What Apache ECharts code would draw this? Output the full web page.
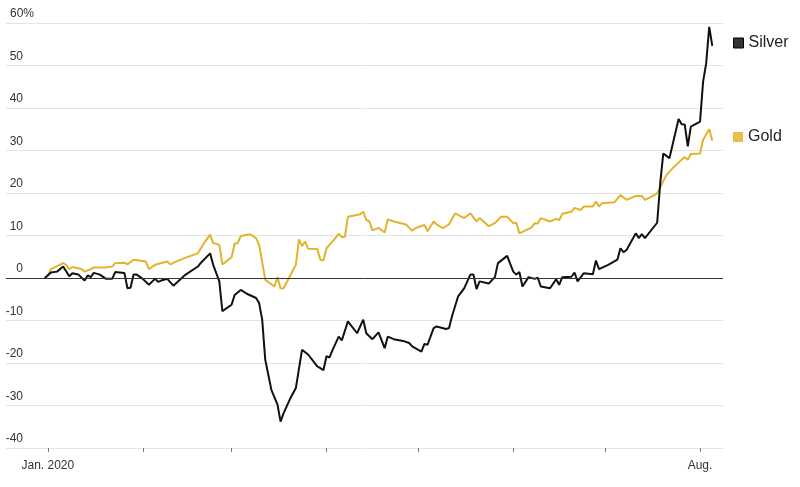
<!DOCTYPE html>
<html>
<head>
<meta charset="utf-8">
<script src="https://cdn.jsdelivr.net/npm/echarts@6/dist/echarts.min.js"></script>
<style>html,body{margin:0;padding:0;background:#fff}#c{width:800px;height:487px}</style>
</head>
<body>
<div id="c"></div>
<script>
// Silver: % change since start of 2020
const silverDates = ['2019-12-31','2020-01-02','2020-01-04','2020-01-06','2020-01-08','2020-01-09','2020-01-11','2020-01-13','2020-01-14','2020-01-15','2020-01-16','2020-01-18','2020-01-20','2020-01-22','2020-01-23','2020-01-26','2020-01-27','2020-01-28','2020-01-29','2020-01-30','2020-02-01','2020-02-03','2020-02-05','2020-02-06','2020-02-07','2020-02-09','2020-02-11','2020-02-15','2020-02-19','2020-02-20','2020-02-23','2020-02-24','2020-02-26','2020-02-27','2020-03-01','2020-03-02','2020-03-04','2020-03-06','2020-03-09','2020-03-10','2020-03-11','2020-03-12','2020-03-14','2020-03-16','2020-03-17','2020-03-18','2020-03-20','2020-03-22','2020-03-24','2020-03-26','2020-03-29','2020-03-30','2020-03-31','2020-04-01','2020-04-02','2020-04-03','2020-04-05','2020-04-06','2020-04-08','2020-04-11','2020-04-13','2020-04-14','2020-04-16','2020-04-18','2020-04-20','2020-04-21','2020-04-23','2020-04-26','2020-04-28','2020-04-29','2020-05-02','2020-05-03','2020-05-04','2020-05-06','2020-05-07','2020-05-10','2020-05-11','2020-05-12','2020-05-14','2020-05-16','2020-05-18','2020-05-19','2020-05-20','2020-05-21','2020-05-24','2020-05-26','2020-05-27','2020-05-30','2020-06-01','2020-06-02','2020-06-03','2020-06-04','2020-06-06','2020-06-08','2020-06-09','2020-06-10','2020-06-13','2020-06-15','2020-06-16','2020-06-17','2020-06-20','2020-06-21','2020-06-22','2020-06-24','2020-06-27','2020-06-28','2020-06-29','2020-07-02','2020-07-05','2020-07-06','2020-07-07','2020-07-08','2020-07-11','2020-07-12','2020-07-13','2020-07-14','2020-07-18','2020-07-19','2020-07-20','2020-07-22','2020-07-25','2020-07-26','2020-07-27','2020-07-28','2020-07-29','2020-08-01','2020-08-02','2020-08-03','2020-08-04','2020-08-05'];
const silverValues = [0,1.3,1.5,2.7,0.4,1.1,0.8,-0.6,0.6,0.2,1.2,0.8,-0.2,-0.2,1.4,1.2,-2.4,-2.3,0.8,0.8,-0.2,-1.6,-0.2,-0.9,-0.6,-0.2,-1.8,0.8,2.7,3.6,5.8,3.1,-0.8,-7.8,-6.3,-4,-2.8,-3.7,-4.7,-5.9,-9.8,-19.2,-26.3,-29.8,-33.8,-31.8,-28.6,-25.9,-16.9,-18,-20.8,-21.2,-21.7,-18.4,-18.7,-16.9,-13.8,-14.7,-10.2,-13,-9.8,-13,-14.4,-12.8,-16.5,-13.8,-14.4,-14.8,-15.3,-16.1,-17.3,-15.5,-15.7,-11.8,-11.4,-12,-11.8,-9,-4.3,-2.4,0.8,0.8,-2.6,-0.8,-1.3,0.2,3.5,5.2,1.5,0.8,1.4,-2,0.2,-0.2,0.1,-2,-2.4,-0.3,-1.6,0.2,0.3,1.3,-0.8,1.1,0.9,4.1,2.1,3.1,4.3,7,6.1,6.6,10.5,9.4,10.3,9.4,13,22.3,29.3,28.2,37.4,36.2,36.1,31,35.6,36.8,46.2,50.5,59.1,54.6];

// Gold: % change since start of 2020
const goldDates = ['2019-12-31','2020-01-01','2020-01-02','2020-01-06','2020-01-07','2020-01-08','2020-01-09','2020-01-12','2020-01-13','2020-01-15','2020-01-16','2020-01-20','2020-01-22','2020-01-23','2020-01-26','2020-01-27','2020-01-29','2020-02-02','2020-02-03','2020-02-05','2020-02-09','2020-02-10','2020-02-12','2020-02-15','2020-02-19','2020-02-21','2020-02-23','2020-02-24','2020-02-26','2020-02-27','2020-03-01','2020-03-02','2020-03-03','2020-03-04','2020-03-07','2020-03-09','2020-03-10','2020-03-12','2020-03-15','2020-03-16','2020-03-17','2020-03-18','2020-03-22','2020-03-23','2020-03-24','2020-03-25','2020-03-26','2020-03-29','2020-03-30','2020-03-31','2020-04-01','2020-04-03','2020-04-05','2020-04-06','2020-04-07','2020-04-08','2020-04-10','2020-04-12','2020-04-13','2020-04-14','2020-04-15','2020-04-16','2020-04-18','2020-04-20','2020-04-21','2020-04-23','2020-04-27','2020-04-29','2020-04-30','2020-05-03','2020-05-04','2020-05-06','2020-05-07','2020-05-09','2020-05-11','2020-05-13','2020-05-16','2020-05-18','2020-05-20','2020-05-21','2020-05-24','2020-05-26','2020-05-28','2020-05-30','2020-06-01','2020-06-02','2020-06-03','2020-06-07','2020-06-08','2020-06-09','2020-06-10','2020-06-13','2020-06-15','2020-06-16','2020-06-17','2020-06-20','2020-06-21','2020-06-23','2020-06-24','2020-06-27','2020-06-28','2020-06-29','2020-06-30','2020-07-04','2020-07-06','2020-07-08','2020-07-11','2020-07-13','2020-07-14','2020-07-16','2020-07-18','2020-07-21','2020-07-23','2020-07-27','2020-07-28','2020-07-29','2020-08-01','2020-08-02','2020-08-04','2020-08-05'];
const goldValues = [0,0.5,2.1,3.5,3.1,2.1,2.6,2.1,1.5,2.1,2.5,2.5,2.7,3.5,3.6,3.2,4.3,3.9,2.1,3.1,3.9,3.2,3.9,4.8,5.8,8.2,10.2,8.2,7.8,3.2,4.9,8.1,8.2,9.9,10.3,9.4,7.8,-0.4,-2,0.2,-2.5,-2.4,3.1,9.1,7.5,8.6,6.9,6.8,4.3,4.1,7,8.6,10.4,9.6,9.7,14.4,14.7,15,15.6,13.7,13.3,11.2,11.8,10.7,13.8,13.3,12.6,11.1,11.7,12.5,11,13.3,12.6,11.7,12.6,15.2,14.1,15.2,13.3,14.1,12.2,12.9,14.4,14.4,12.9,13,10.5,11.9,12.9,12.8,14.1,13.3,13.9,13.6,15.1,15.6,16.5,16,16.8,16.8,18,16.8,17.6,17.8,19.5,18.4,19.3,19.3,18.4,19.1,19.9,24.2,25.8,28.5,27.8,29.2,29.3,32.5,35,32.3];

const yTicks = [-40,-30,-20,-10,0,10,20,30,40,50,60];
const xLabelJan = 'Jan. 2020';
const xLabelAug = 'Aug.';

const silverColor = '#111111';
const goldColor = '#e2b32c';
const font = "'Liberation Sans', Arial, sans-serif";

const chart = echarts.init(document.getElementById('c'), null, {renderer: 'canvas'});
chart.setOption({
  animation: false,
  backgroundColor: '#fff',
  textStyle: {fontFamily: font},
  grid: {left: 6, right: 77, top: 23, bottom: 39, containLabel: false, outerBoundsMode: 'none'},
  legend: [
    {data: [{name: 'Silver', itemStyle: {color: '#333', borderColor: '#000', borderWidth: 1}}],
     left: 733, top: 35, padding: 0, icon: 'rect', itemWidth: 10, itemHeight: 10,
     selectedMode: false, textStyle: {fontSize: 16, lineHeight: 16, color: '#222', fontFamily: font}},
    {data: [{name: 'Gold', itemStyle: {color: '#e6bf4a'}}],
     left: 733, top: 129, padding: 0, icon: 'rect', itemWidth: 10, itemHeight: 10,
     selectedMode: false, textStyle: {fontSize: 16, lineHeight: 16, color: '#222', fontFamily: font}}
  ],
  xAxis: {
    type: 'time',
    min: '2019-12-18T08:00:00',
    max: '2020-08-08T12:00:00',
    minInterval: 28 * 86400000,
    maxInterval: 31 * 86400000,
    axisLine: {show: false, onZero: false},
    axisTick: {show: true, length: 4, lineStyle: {color: '#777', width: 1}},
    splitLine: {show: false},
    axisLabel: {
      margin: 12, fontSize: 12, color: '#333', fontFamily: font,
      showMinLabel: false, showMaxLabel: false,
      formatter: function (v) {
        const m = new Date(v).getMonth();
        if (m === 0) return xLabelJan;
        if (m === 7) return xLabelAug;
        return '';
      }
    }
  },
  yAxis: {
    type: 'value',
    min: yTicks[0], max: yTicks[yTicks.length - 1], interval: 10,
    axisLine: {show: false},
    axisTick: {show: false},
    splitLine: {show: true, lineStyle: {color: '#e4e4e4', width: 1}},
    axisLabel: {
      inside: true, margin: 0, verticalAlign: 'bottom', align: 'left', padding: [0, 0, 3, 0],
      fontSize: 12, color: '#333', fontFamily: font,
      formatter: function (v) { return v === 60 ? '{q|60%}' : '{n|' + v + '}'; },
      rich: {
        n: {width: 17, align: 'right', fontSize: 12, color: '#333', fontFamily: font},
        q: {width: 28, align: 'right', fontSize: 12, color: '#333', fontFamily: font}
      }
    }
  },
  series: [
    {
      name: 'Gold', type: 'line', showSymbol: false, symbol: 'none',
      data: goldDates.map((d, i) => [d, goldValues[i]]),
      lineStyle: {color: goldColor, width: 2}, itemStyle: {color: goldColor},
      z: 3,
      markLine: {
        silent: true, symbol: 'none', label: {show: false},
        lineStyle: {color: '#333', width: 1, type: 'solid'},
        data: [{yAxis: 0}]
      }
    },
    {
      name: 'Silver', type: 'line', showSymbol: false, symbol: 'none',
      data: silverDates.map((d, i) => [d, silverValues[i]]),
      lineStyle: {color: silverColor, width: 2}, itemStyle: {color: silverColor},
      z: 4
    }
  ]
});
</script>
</body>
</html>
